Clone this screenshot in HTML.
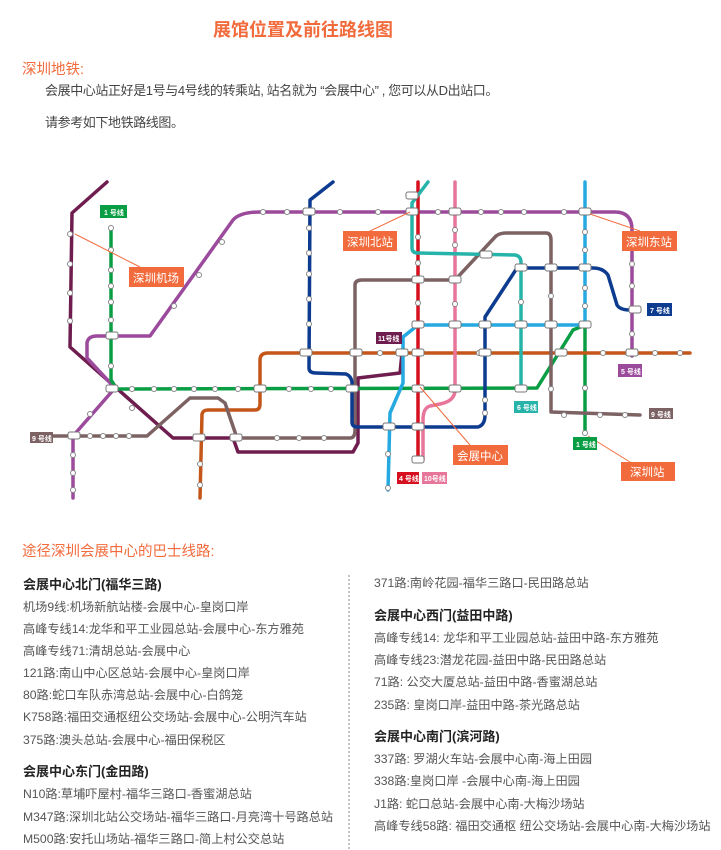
<!DOCTYPE html>
<html><head><meta charset="utf-8"><style>
body{margin:0;width:721px;height:850px;background:#fff;position:relative;font-family:"Liberation Sans","Noto Sans CJK SC",sans-serif;overflow:hidden}
.t{position:absolute;white-space:nowrap}
.or{color:#f26b3c}
.p{color:#444;font-size:13px;letter-spacing:-0.4px}
.h{color:#222;font-size:13px;font-weight:bold}
.i{color:#555;font-size:12.2px}
</style></head><body>
<div class="t or" style="left:213px;top:16px;font-size:18px;font-weight:bold">展馆位置及前往路线图</div>
<div class="t or" style="left:22px;top:58px;font-size:14.5px">深圳地铁:</div>
<div class="t p" style="left:45px;top:80px">会展中心站正好是1号与4号线的转乘站, 站名就为 “会展中心” , 您可以从D出站口。</div>
<div class="t p" style="left:45px;top:112px">请参考如下地铁路线图。</div>

<svg style="position:absolute;left:0;top:0" width="721" height="850" viewBox="0 0 721 850">
<g fill="none" stroke-width="3.5" stroke-linejoin="round" stroke-linecap="round">
<path stroke="#6e1d4e" d="M107,182 L72,213 L70,347 L173,438 L233,438 L238,452 L353,452 L358,443 L358,378 L400,373 L402,353"/>
<path stroke="#9b4a9c" d="M73,498 L73,436 L115,388 L87,358 L87,343 Q88,336 97,336 L150,336 L233,220 Q240,212 260,212 L615,212 Q632,212 632,230 L632,354 L632,356"/>
<path stroke="#0a9e44" d="M111,228 L111,380 L117,389 L537,388 L573,330 L585,325 L585,433"/>
<path stroke="#c4561a" d="M200,498 L202,414 Q203,410 208,410 L255,410 Q260,410 260,404 L260,360 Q260,353 268,353 L690,353"/>
<path stroke="#7c6263" d="M42,436 L147,436 L190,398 L218,398 L225,403 L237,438 L350,438 Q355,438 355,430 L355,285 Q355,280 362,280 L455,280 L496,236 Q500,233 506,233 L546,233 Q551,233 551,240 L551,412 L640,415"/>
<path stroke="#0d3b8f" d="M333,182 L310,200 L309,368 Q309,373 316,373 L346,374 Q351,376 352,382 L352,422 Q352,427 358,427 L478,427 Q485,425 485,415 L485,317 L517,268 L593,268 Q603,268 608,275 L617,305 Q620,310 630,310 L635,310"/>
<path stroke="#d6101e" d="M418,182 L418,460"/>
<path stroke="#e8759a" d="M455,182 L455,390 Q455,401 440,404 L430,406 Q423,408 423,420 L423,460"/>
<path stroke="#26b3a9" d="M428,182 L412,203 L412,248 Q412,253 418,253 L515,255 Q521,256 521,262 L521,388"/>
<path stroke="#25a9e0" d="M585,182 L585,325 L418,325 L403,337 L403,383 L390,413 L388,490"/>
</g>
<g fill="#fff" stroke="#888" stroke-width="1">
<circle cx="111" cy="228" r="2.5"/><circle cx="111" cy="250" r="2.5"/><circle cx="111" cy="270" r="2.5"/><circle cx="111" cy="286" r="2.5"/><circle cx="111" cy="302" r="2.5"/><circle cx="111" cy="320" r="2.5"/><circle cx="111" cy="366" r="2.5"/>
<circle cx="70" cy="234" r="2.5"/><circle cx="70" cy="264" r="2.5"/><circle cx="70" cy="293" r="2.5"/><circle cx="70" cy="321" r="2.5"/>
<circle cx="132" cy="389" r="2.5"/><circle cx="154" cy="389" r="2.5"/><circle cx="174" cy="389" r="2.5"/><circle cx="194" cy="389" r="2.5"/><circle cx="215" cy="389" r="2.5"/><circle cx="238" cy="389" r="2.5"/><circle cx="289" cy="389" r="2.5"/><circle cx="311" cy="389" r="2.5"/><circle cx="331" cy="389" r="2.5"/>
<circle cx="263" cy="212" r="2.5"/><circle cx="287" cy="212" r="2.5"/><circle cx="340" cy="212" r="2.5"/><circle cx="378" cy="212" r="2.5"/><circle cx="438" cy="212" r="2.5"/><circle cx="481" cy="212" r="2.5"/><circle cx="501" cy="212" r="2.5"/><circle cx="524" cy="212" r="2.5"/><circle cx="564" cy="212" r="2.5"/>
<circle cx="222" cy="242" r="2.5"/><circle cx="199" cy="275" r="2.5"/><circle cx="174" cy="306" r="2.5"/>
<circle cx="309" cy="228" r="2.5"/><circle cx="309" cy="253" r="2.5"/><circle cx="309" cy="274" r="2.5"/><circle cx="309" cy="299" r="2.5"/><circle cx="309" cy="324" r="2.5"/>
<circle cx="632" cy="264" r="2.5"/><circle cx="632" cy="286" r="2.5"/><circle cx="632" cy="334" r="2.5"/>
<circle cx="585" cy="232" r="2.5"/><circle cx="585" cy="250" r="2.5"/><circle cx="585" cy="288" r="2.5"/><circle cx="585" cy="306" r="2.5"/><circle cx="585" cy="388" r="2.5"/><circle cx="585" cy="433" r="2.5"/>
<circle cx="455" cy="230" r="2.5"/><circle cx="455" cy="245" r="2.5"/><circle cx="455" cy="304" r="2.5"/><circle cx="418" cy="237" r="2.5"/><circle cx="418" cy="263" r="2.5"/><circle cx="418" cy="303" r="2.5"/>
<circle cx="479" cy="353" r="2.5"/><circle cx="380" cy="353" r="2.5"/><circle cx="603" cy="353" r="2.5"/><circle cx="655" cy="353" r="2.5"/><circle cx="680" cy="353" r="2.5"/>
<circle cx="551" cy="296" r="2.5"/><circle cx="551" cy="389" r="2.5"/><circle cx="564" cy="415" r="2.5"/><circle cx="600" cy="415" r="2.5"/><circle cx="625" cy="415" r="2.5"/>
<circle cx="485" cy="400" r="2.5"/><circle cx="485" cy="413" r="2.5"/><circle cx="521" cy="302" r="2.5"/>
<circle cx="73" cy="455" r="2.5"/><circle cx="73" cy="473" r="2.5"/><circle cx="73" cy="490" r="2.5"/><circle cx="90" cy="436" r="2.5"/><circle cx="103" cy="436" r="2.5"/><circle cx="116" cy="436" r="2.5"/><circle cx="129" cy="436" r="2.5"/>
<circle cx="200" cy="464" r="2.5"/><circle cx="200" cy="485" r="2.5"/><circle cx="277" cy="438" r="2.5"/><circle cx="299" cy="438" r="2.5"/><circle cx="324" cy="438" r="2.5"/>
<circle cx="132" cy="408" r="2.5"/><circle cx="90" cy="414" r="2.5"/><circle cx="388" cy="454" r="2.5"/><circle cx="388" cy="488" r="2.5"/>
</g>
<g fill="#fff" stroke="#777" stroke-width="1">
<rect x="106" y="385" width="12" height="7" rx="2"/><rect x="254" y="385" width="12" height="7" rx="2"/><rect x="346" y="385" width="12" height="7" rx="2"/><rect x="412" y="385" width="12" height="7" rx="2"/><rect x="449" y="385" width="12" height="7" rx="2"/><rect x="515" y="385" width="12" height="7" rx="2"/>
<rect x="303" y="208" width="12" height="7" rx="2"/><rect x="406" y="208" width="12" height="7" rx="2"/><rect x="449" y="208" width="12" height="7" rx="2"/><rect x="579" y="208" width="12" height="7" rx="2"/>
<rect x="412" y="349" width="12" height="7" rx="2"/><rect x="396" y="349" width="12" height="7" rx="2"/><rect x="350" y="349" width="12" height="7" rx="2"/><rect x="479" y="349" width="12" height="7" rx="2"/><rect x="555" y="349" width="12" height="7" rx="2"/><rect x="626" y="349" width="12" height="7" rx="2"/>
<rect x="412" y="321" width="12" height="7" rx="2"/><rect x="449" y="321" width="12" height="7" rx="2"/><rect x="479" y="321" width="12" height="7" rx="2"/><rect x="515" y="321" width="12" height="7" rx="2"/><rect x="545" y="321" width="12" height="7" rx="2"/><rect x="579" y="321" width="12" height="7" rx="2"/>
<rect x="412" y="276" width="12" height="7" rx="2"/><rect x="449" y="276" width="12" height="7" rx="2"/><rect x="480" y="251" width="12" height="7" rx="2"/><rect x="515" y="264" width="12" height="7" rx="2"/><rect x="545" y="264" width="12" height="7" rx="2"/><rect x="579" y="264" width="12" height="7" rx="2"/>
<rect x="68" y="432" width="12" height="7" rx="2"/><rect x="193" y="434" width="12" height="7" rx="2"/><rect x="230" y="434" width="12" height="7" rx="2"/><rect x="300" y="349" width="12" height="7" rx="2"/><rect x="629" y="306" width="12" height="7" rx="2"/>
<rect x="383" y="423" width="12" height="7" rx="2"/><rect x="412" y="423" width="12" height="7" rx="2"/><rect x="106" y="332" width="12" height="7" rx="2"/><rect x="412" y="456" width="12" height="7" rx="2"/><rect x="406" y="192" width="12" height="7" rx="2"/>
</g>
<g stroke="#f26b3c" stroke-width="1" fill="none">
<line x1="75" y1="234" x2="140" y2="267"/><line x1="410" y1="212" x2="370" y2="231"/><line x1="590" y1="214" x2="640" y2="231"/><line x1="420" y1="387" x2="470" y2="445"/><line x1="588" y1="436" x2="630" y2="462"/>
</g>
<g font-size="7" fill="#fff" font-weight="bold">
<rect x="100" y="205" width="27" height="13" fill="#0a9e44"/><text x="104" y="215">1 号线</text>
<rect x="376" y="332" width="26" height="12" fill="#6e1d4e"/><text x="378" y="341">11号线</text>
<rect x="647" y="303" width="25" height="13" fill="#0d3b8f"/><text x="650" y="313">7 号线</text>
<rect x="618" y="364" width="24" height="13" fill="#9b4a9c"/><text x="621" y="374">5 号线</text>
<rect x="30" y="432" width="23" height="11" fill="#7c6263"/><text x="32" y="441">9 号线</text>
<rect x="649" y="408" width="24" height="11" fill="#7c6263"/><text x="651" y="417">9 号线</text>
<rect x="514" y="401" width="24" height="12" fill="#26b3a9"/><text x="517" y="410">6 号线</text>
<rect x="573" y="437" width="24" height="13" fill="#0a9e44"/><text x="576" y="447">1 号线</text>
<rect x="397" y="472" width="22" height="12" fill="#d6101e"/><text x="399" y="481">4 号线</text>
<rect x="422" y="472" width="25" height="12" fill="#e8759a"/><text x="424" y="481">10号线</text>
</g>
<g fill="#f26b3c">
<rect x="129" y="267" width="55" height="20"/><rect x="343" y="231" width="54" height="20"/><rect x="622" y="231" width="55" height="20"/><rect x="453" y="445" width="55" height="20"/><rect x="621" y="462" width="54" height="19"/>
</g>
<g fill="#fff" font-size="11.5" font-family="Liberation Sans,Noto Sans CJK SC,sans-serif">
<text x="133" y="282">深圳机场</text><text x="347" y="246">深圳北站</text><text x="626" y="246">深圳东站</text><text x="457" y="460">会展中心</text><text x="630" y="476">深圳站</text>
</g>
<line x1="349" y1="575" x2="349" y2="850" stroke="#888" stroke-width="1" stroke-dasharray="2,2"/>
</svg>

<div class="t or" style="left:22px;top:540px;font-size:14.5px">途径深圳会展中心的巴士线路:</div>
<div class="t h" style="left:23px;top:574px">会展中心北门(福华三路)</div>
<div class="t i" style="left:23px;top:597px">机场9线:机场新航站楼-会展中心-皇岗口岸</div>
<div class="t i" style="left:23px;top:619px">高峰专线14:龙华和平工业园总站-会展中心-东方雅苑</div>
<div class="t i" style="left:23px;top:641px">高峰专线71:清胡总站-会展中心</div>
<div class="t i" style="left:23px;top:663px">121路:南山中心区总站-会展中心-皇岗口岸</div>
<div class="t i" style="left:23px;top:685px">80路:蛇口车队赤湾总站-会展中心-白鸽笼</div>
<div class="t i" style="left:23px;top:707px">K758路:福田交通枢纽公交场站-会展中心-公明汽车站</div>
<div class="t i" style="left:23px;top:730px">375路:澳头总站-会展中心-福田保税区</div>
<div class="t h" style="left:23px;top:761px">会展中心东门(金田路)</div>
<div class="t i" style="left:23px;top:784px">N10路:草埔吓屋村-福华三路口-香蜜湖总站</div>
<div class="t i" style="left:23px;top:807px">M347路:深圳北站公交场站-福华三路口-月亮湾十号路总站</div>
<div class="t i" style="left:23px;top:829px">M500路:安托山场站-福华三路口-简上村公交总站</div>

<div class="t i" style="left:374px;top:573px">371路:南岭花园-福华三路口-民田路总站</div>
<div class="t h" style="left:374px;top:605px">会展中心西门(益田中路)</div>
<div class="t i" style="left:374px;top:628px">高峰专线14: 龙华和平工业园总站-益田中路-东方雅苑</div>
<div class="t i" style="left:374px;top:650px">高峰专线23:潜龙花园-益田中路-民田路总站</div>
<div class="t i" style="left:374px;top:672px">71路: 公交大厦总站-益田中路-香蜜湖总站</div>
<div class="t i" style="left:374px;top:695px">235路: 皇岗口岸-益田中路-茶光路总站</div>
<div class="t h" style="left:374px;top:726px">会展中心南门(滨河路)</div>
<div class="t i" style="left:374px;top:749px">337路: 罗湖火车站-会展中心南-海上田园</div>
<div class="t i" style="left:374px;top:771px">338路:皇岗口岸 -会展中心南-海上田园</div>
<div class="t i" style="left:374px;top:794px">J1路: 蛇口总站-会展中心南-大梅沙场站</div>
<div class="t i" style="left:374px;top:816px">高峰专线58路: 福田交通枢 纽公交场站-会展中心南-大梅沙场站</div>
</body></html>
